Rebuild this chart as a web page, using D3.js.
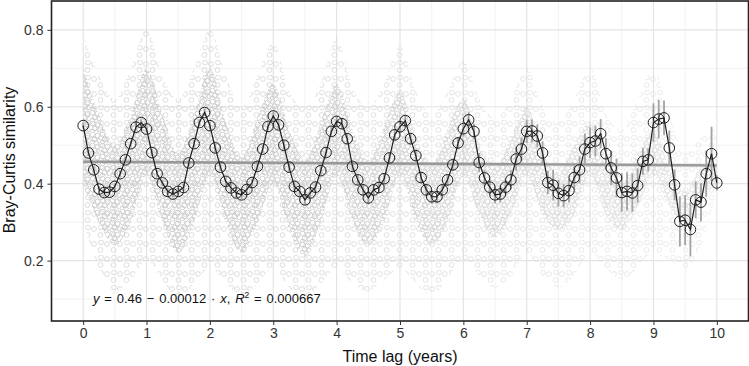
<!DOCTYPE html>
<html><head><meta charset="utf-8">
<script src="https://cdn.jsdelivr.net/npm/d3@7"></script>
<style>
html,body{margin:0;padding:0;background:#fff;}
text{font-family:"Liberation Sans",Arial,Helvetica,sans-serif;}
</style></head>
<body>
<svg id="chart" width="749" height="366"></svg>
<script>
// ---- data ----
// monthly time lags (years): 0, 1/12, ..., 10
const lagMonth = d3.range(0, 121);
const meanSim = [
0.551,0.480,0.436,0.386,0.377,0.378,0.393,0.426,0.462,0.504,0.547,0.559,
0.542,0.481,0.426,0.402,0.380,0.373,0.380,0.390,0.454,0.504,0.559,0.585,
0.551,0.493,0.443,0.406,0.389,0.376,0.371,0.385,0.403,0.445,0.490,0.549,
0.576,0.553,0.500,0.443,0.393,0.380,0.358,0.376,0.391,0.434,0.481,0.536,
0.562,0.556,0.517,0.445,0.410,0.384,0.363,0.384,0.390,0.413,0.467,0.527,
0.548,0.564,0.517,0.473,0.416,0.384,0.366,0.366,0.384,0.410,0.449,0.506,
0.543,0.566,0.536,0.455,0.415,0.391,0.371,0.373,0.391,0.410,0.464,0.490,
0.536,0.537,0.524,0.480,0.403,0.396,0.375,0.369,0.382,0.416,0.436,0.490,
0.507,0.511,0.530,0.478,0.441,0.415,0.377,0.380,0.376,0.395,0.458,0.462,
0.559,0.568,0.571,0.493,0.397,0.302,0.305,0.281,0.358,0.352,0.426,0.478,
0.402];
const errHalf = [
0.008,0.008,0.008,0.008,0.008,0.008,0.008,0.008,0.008,0.008,0.008,0.008,
0.009,0.009,0.009,0.009,0.009,0.009,0.009,0.009,0.009,0.009,0.009,0.009,
0.010,0.010,0.010,0.010,0.010,0.010,0.010,0.010,0.010,0.010,0.010,0.010,
0.011,0.011,0.011,0.011,0.011,0.012,0.012,0.011,0.011,0.011,0.011,0.011,
0.013,0.013,0.013,0.013,0.013,0.014,0.016,0.014,0.013,0.013,0.013,0.013,
0.015,0.015,0.015,0.015,0.015,0.016,0.018,0.016,0.015,0.015,0.015,0.015,
0.020,0.020,0.020,0.025,0.020,0.020,0.022,0.022,0.020,0.025,0.030,0.030,
0.030,0.030,0.030,0.030,0.030,0.040,0.035,0.030,0.030,0.030,0.035,0.040,
0.040,0.040,0.038,0.040,0.045,0.050,0.050,0.050,0.050,0.045,0.035,0.030,
0.050,0.050,0.045,0.045,0.040,0.065,0.065,0.070,0.048,0.050,0.060,0.070,
0.020];
// background cloud of pairwise similarities, summarised per quarter year
const cloudLag = [0,0.25,0.5,0.75,1,1.25,1.5,1.75,2,2.25,2.5,2.75,3,3.25,3.5,3.75,4,4.25,4.5,4.75,5,5.25,5.5,5.75,6,6.25,6.5,6.75,7,7.25,7.5,7.75,8,8.25,8.5,8.75,9,9.25,9.5,9.75,10];
const cloudOuterHi = [0.79,0.68,0.62,0.70,0.80,0.68,0.62,0.70,0.80,0.68,0.60,0.68,0.77,0.64,0.60,0.66,0.78,0.65,0.60,0.66,0.76,0.64,0.58,0.64,0.72,0.62,0.57,0.62,0.70,0.60,0.56,0.62,0.70,0.58,0.54,0.62,0.70,0.58,0.48,0.52,0.55];
const cloudOuterLo = [0.30,0.18,0.12,0.15,0.20,0.15,0.10,0.14,0.18,0.14,0.11,0.14,0.18,0.13,0.10,0.14,0.18,0.14,0.12,0.15,0.18,0.14,0.11,0.15,0.20,0.16,0.13,0.16,0.22,0.16,0.13,0.16,0.22,0.18,0.15,0.18,0.22,0.20,0.18,0.24,0.38];
const cloudCoreHi = [0.70,0.58,0.50,0.58,0.70,0.58,0.48,0.58,0.70,0.56,0.47,0.57,0.66,0.54,0.46,0.56,0.66,0.54,0.46,0.55,0.64,0.52,0.45,0.54,0.62,0.50,0.44,0.52,0.60,0.48,0.43,0.50,0.56,0.46,0.40,0.48,0.54,0.44,0.38,0.44,0.45];
const cloudCoreLo = [0.40,0.30,0.24,0.30,0.42,0.30,0.22,0.30,0.42,0.30,0.22,0.30,0.40,0.28,0.21,0.30,0.42,0.30,0.24,0.30,0.42,0.30,0.24,0.30,0.42,0.32,0.26,0.32,0.42,0.32,0.28,0.32,0.42,0.32,0.28,0.34,0.42,0.34,0.30,0.36,0.40];
// fitted linear trend (endpoints) and its ribbon half-width
const regLag = [0, 10];
const regFit = [0.457, 0.4475];
const regSE = [0.004, 0.005];
const xTicks = [0,1,2,3,4,5,6,7,8,9,10];
const yTicks = [0.2,0.4,0.6,0.8];
const xTitle = "Time lag (years)";
const yTitle = "Bray-Curtis similarity";

// ---- drawing ----
const svg = d3.select("#chart");
const L = 51.5, R = 748.5, T = 1, B = 321;
const x = d3.scaleLinear().domain([-0.5, 10.5]).range([L, R]);
const y = d3.scaleLinear().domain([0.043, 0.875]).range([B, T]);

const defs = svg.append("defs");
// texture of small hollow rings (styling only)
const pd = defs.append("pattern").attr("id","dense").attr("patternUnits","userSpaceOnUse").attr("width",10).attr("height",11);
[[2.5,2.5],[7.5,3.5],[4.5,7.5],[9.5,8.5],[2.5,10.5]].forEach(p=>pd.append("circle").attr("cx",p[0]).attr("cy",p[1]).attr("r",2.4).attr("fill","none").attr("stroke","#cacaca").attr("stroke-width",0.85));
const ps = defs.append("pattern").attr("id","sparse").attr("patternUnits","userSpaceOnUse").attr("width",13).attr("height",15);
[[3,4],[9.5,10],[10,2.5]].forEach(p=>ps.append("circle").attr("cx",p[0]).attr("cy",p[1]).attr("r",2.4).attr("fill","none").attr("stroke","#d4d4d4").attr("stroke-width",0.8));
const grad = defs.append("linearGradient").attr("id","fade").attr("gradientUnits","userSpaceOnUse")
  .attr("x1",x(3)).attr("x2",x(10)).attr("y1",0).attr("y2",0);
grad.append("stop").attr("offset",0).attr("stop-color","#fff");
grad.append("stop").attr("offset",1).attr("stop-color","#8a8a8a");
const mask = defs.append("mask").attr("id","fadeMask");
mask.append("rect").attr("x",0).attr("y",0).attr("width",749).attr("height",366).attr("fill","url(#fade)");
defs.append("clipPath").attr("id","panel").append("rect").attr("x",L).attr("y",T).attr("width",R-L).attr("height",B-T);

// panel background + grid
svg.append("rect").attr("x",L).attr("y",T).attr("width",R-L).attr("height",B-T).attr("fill","#fff");
const grid = svg.append("g");
const yMinor = [0.1,0.3,0.5,0.7];
const xMinor = [-0.5,0.5,1.5,2.5,3.5,4.5,5.5,6.5,7.5,8.5,9.5,10.5];
grid.selectAll(".ym").data(yMinor).join("line").attr("x1",L).attr("x2",R).attr("y1",d=>y(d)).attr("y2",d=>y(d)).attr("stroke","#f0f0f0").attr("stroke-width",0.9);
grid.selectAll(".xm").data(xMinor).join("line").attr("y1",T).attr("y2",B).attr("x1",d=>x(d)).attr("x2",d=>x(d)).attr("stroke","#f0f0f0").attr("stroke-width",0.9);
grid.selectAll(".yM").data(yTicks).join("line").attr("x1",L).attr("x2",R).attr("y1",d=>y(d)).attr("y2",d=>y(d)).attr("stroke","#e4e4e4").attr("stroke-width",1.2);
grid.selectAll(".xM").data(xTicks).join("line").attr("y1",T).attr("y2",B).attr("x1",d=>x(d)).attr("x2",d=>x(d)).attr("stroke","#e4e4e4").attr("stroke-width",1.2);

// cloud
const cloud = cloudLag.map((l,i)=>({l, oh:cloudOuterHi[i], ol:cloudOuterLo[i], ch:cloudCoreHi[i], cl:cloudCoreLo[i]}));
const cg = svg.append("g").attr("clip-path","url(#panel)").attr("mask","url(#fadeMask)");
cg.append("path").datum(cloud).attr("fill","url(#sparse)")
  .attr("d", d3.area().curve(d3.curveMonotoneX).x(d=>x(d.l)).y0(d=>y(d.ol)).y1(d=>y(d.oh)));
cg.append("path").datum(cloud).attr("fill","url(#dense)")
  .attr("d", d3.area().curve(d3.curveMonotoneX).x(d=>x(d.l)).y0(d=>y(d.cl)).y1(d=>y(d.ch)));

// regression line
const reg = regLag.map((l,i)=>({l, f:regFit[i], s:regSE[i]}));
svg.append("path").datum(reg).attr("fill","#b5b5b5").attr("fill-opacity",0.45)
  .attr("d", d3.area().x(d=>x(d.l)).y0(d=>y(d.f-d.s)).y1(d=>y(d.f+d.s)));
svg.append("path").datum(reg).attr("fill","none").attr("stroke","#999").attr("stroke-width",2.3)
  .attr("d", d3.line().x(d=>x(d.l)).y(d=>y(d.f)));

// means
const pts = lagMonth.map((m,i)=>({t:m/12, v:meanSim[i], e:errHalf[i]}));
svg.append("g").selectAll("line").data(pts).join("line")
  .attr("x1",d=>x(d.t)).attr("x2",d=>x(d.t)).attr("y1",d=>y(d.v-d.e)).attr("y2",d=>y(d.v+d.e))
  .attr("stroke","#a3a3a3").attr("stroke-width",1.8);
svg.append("path").datum(pts).attr("fill","none").attr("stroke","#1e1e1e").attr("stroke-width",1.2)
  .attr("d", d3.line().x(d=>x(d.t)).y(d=>y(d.v)));
svg.append("g").selectAll("circle").data(pts).join("circle")
  .attr("cx",d=>x(d.t)).attr("cy",d=>y(d.v)).attr("r",5.3)
  .attr("fill","none").attr("stroke","#1e1e1e").attr("stroke-width",1);

// annotation
const ann = svg.append("text").attr("x",93).attr("y",303).attr("font-size",13).attr("word-spacing",1.2).attr("fill","#111");
ann.append("tspan").attr("font-style","italic").text("y");
ann.append("tspan").text(" = 0.46 \u2212 0.00012 \u00b7 ");
ann.append("tspan").attr("font-style","italic").text("x");
ann.append("tspan").text(",  ");
ann.append("tspan").attr("font-style","italic").text("R");
ann.append("tspan").attr("font-size",8.5).attr("dy",-5).text("2");
ann.append("tspan").attr("dy",5).text(" = 0.000667");

// panel border
svg.append("rect").attr("x",L).attr("y",T).attr("width",R-L).attr("height",B-T)
  .attr("fill","none").attr("stroke","#222").attr("stroke-width",1.6);

// axes
const ax = svg.append("g").attr("transform",`translate(0,${B})`)
  .call(d3.axisBottom(x).tickValues(xTicks).tickFormat(d3.format("d")).tickSize(4).tickPadding(3));
const ay = svg.append("g").attr("transform",`translate(${L},0)`)
  .call(d3.axisLeft(y).tickValues(yTicks).tickFormat(d3.format(".1f")).tickSize(4).tickPadding(4));
[ax,ay].forEach(a=>{
  a.select(".domain").remove();
  a.selectAll(".tick line").attr("stroke","#333").attr("stroke-width",1);
  a.selectAll(".tick text").attr("font-size",14).attr("fill","#333").attr("font-family","Liberation Sans, Arial, sans-serif");
});

svg.append("text").attr("x",(L+R)/2).attr("y",362).attr("text-anchor","middle").attr("font-size",16).attr("fill","#111").text(xTitle);
svg.append("text").attr("transform",`translate(15,160) rotate(-90)`).attr("text-anchor","middle").attr("font-size",16).attr("fill","#111").text(yTitle);
</script>
</body></html>
